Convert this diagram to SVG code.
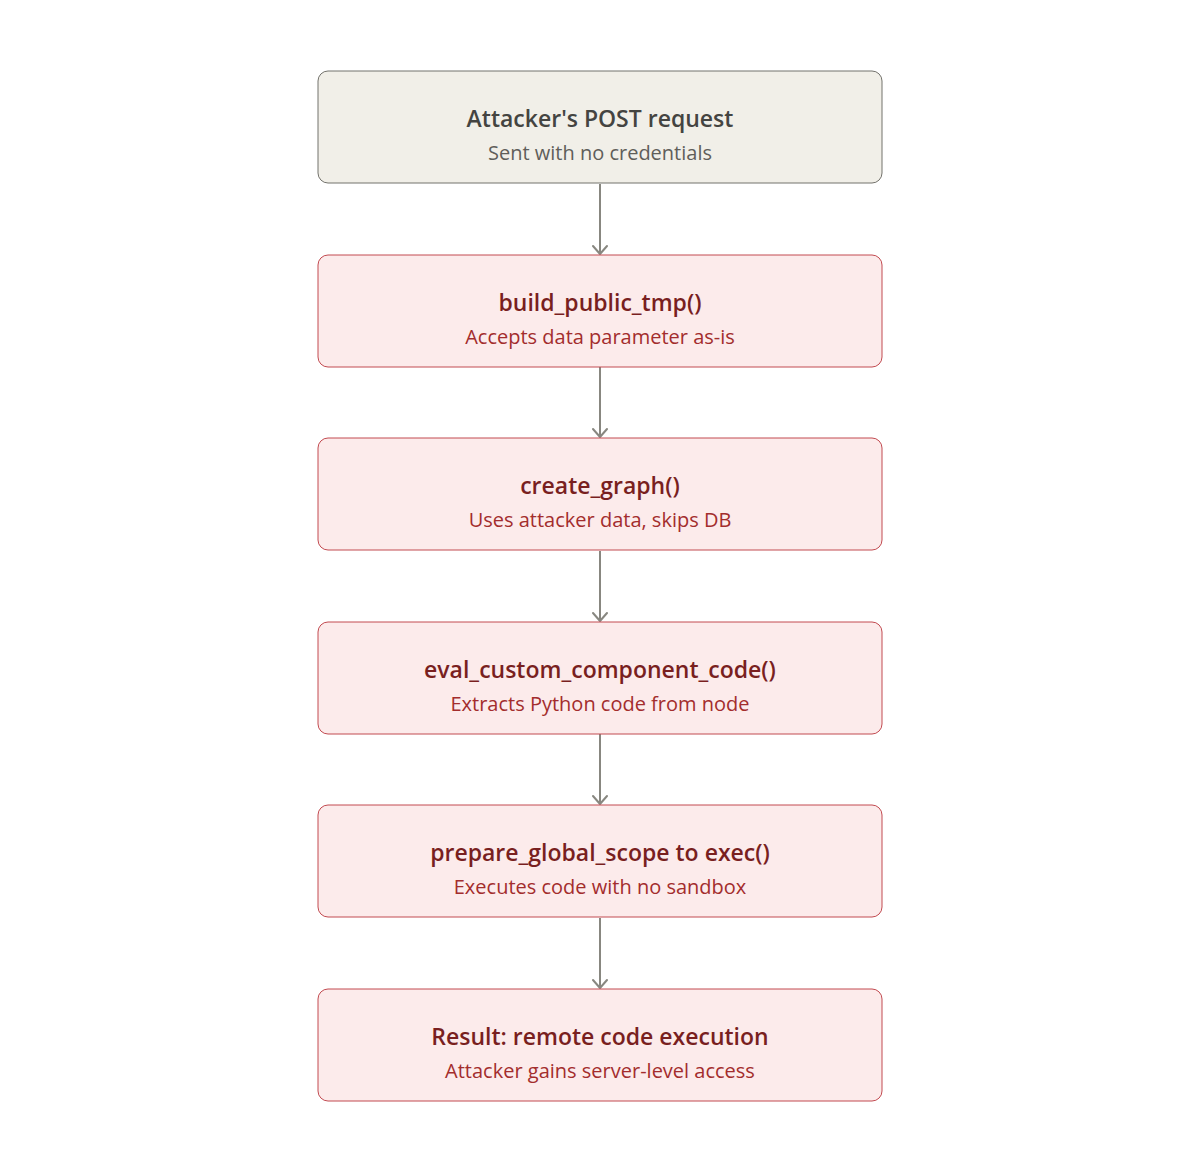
<svg xmlns="http://www.w3.org/2000/svg" width="1200" height="1172" viewBox="0 0 1200 1172">
<defs>
<style>
.box{stroke-width:1}
.gray{fill:#f1efe8;stroke:#73726c}
.red{fill:#fcebeb;stroke:#c24a50}
.t{font-family:"Open Sans","Noto Sans",sans-serif;font-size:23px;font-weight:600;text-anchor:middle}
.s{font-family:"Open Sans","Noto Sans",sans-serif;font-size:20px;font-weight:400;text-anchor:middle}
.gt{fill:#444441}.gs{fill:#5f5e5a}
.rt{fill:#791f1f}.rs{fill:#a32d2d}
.edge{stroke:#888780;stroke-width:2;fill:none}
</style>
<marker id="arr" viewBox="0 0 12 16" refX="10" refY="8" markerWidth="12" markerHeight="16" markerUnits="userSpaceOnUse" orient="auto">
<path d="M2 1 L10 8 L2 15" fill="none" stroke="#888780" stroke-width="2" stroke-linecap="round" stroke-linejoin="round"/>
</marker>
</defs>
<rect width="1200" height="1172" fill="#ffffff"/>
<g id="connectors">
<line class="edge" x1="600" y1="184" x2="600" y2="254" marker-end="url(#arr)"/>
<line class="edge" x1="600" y1="367" x2="600" y2="437" marker-end="url(#arr)"/>
<line class="edge" x1="600" y1="551" x2="600" y2="621" marker-end="url(#arr)"/>
<line class="edge" x1="600" y1="734" x2="600" y2="804" marker-end="url(#arr)"/>
<line class="edge" x1="600" y1="918" x2="600" y2="988" marker-end="url(#arr)"/>
</g>
<g id="node1">
<rect class="box gray" x="318" y="71" width="564" height="112" rx="10"/>
<text class="t gt" x="600" y="127">Attacker's POST request</text>
<text class="s gs" x="600" y="160">Sent with no credentials</text>
</g>
<g id="node2">
<rect class="box red" x="318" y="255" width="564" height="112" rx="10"/>
<text class="t rt" x="600" y="311">build_public_tmp()</text>
<text class="s rs" x="600" y="344">Accepts data parameter as-is</text>
</g>
<g id="node3">
<rect class="box red" x="318" y="438" width="564" height="112" rx="10"/>
<text class="t rt" x="600" y="494">create_graph()</text>
<text class="s rs" x="600" y="527">Uses attacker data, skips DB</text>
</g>
<g id="node4">
<rect class="box red" x="318" y="622" width="564" height="112" rx="10"/>
<text class="t rt" x="600" y="678">eval_custom_component_code()</text>
<text class="s rs" x="600" y="711">Extracts Python code from node</text>
</g>
<g id="node5">
<rect class="box red" x="318" y="805" width="564" height="112" rx="10"/>
<text class="t rt" x="600" y="861">prepare_global_scope to exec()</text>
<text class="s rs" x="600" y="894">Executes code with no sandbox</text>
</g>
<g id="node6">
<rect class="box red" x="318" y="989" width="564" height="112" rx="10"/>
<text class="t rt" x="600" y="1045">Result: remote code execution</text>
<text class="s rs" x="600" y="1078">Attacker gains server-level access</text>
</g>
</svg>
